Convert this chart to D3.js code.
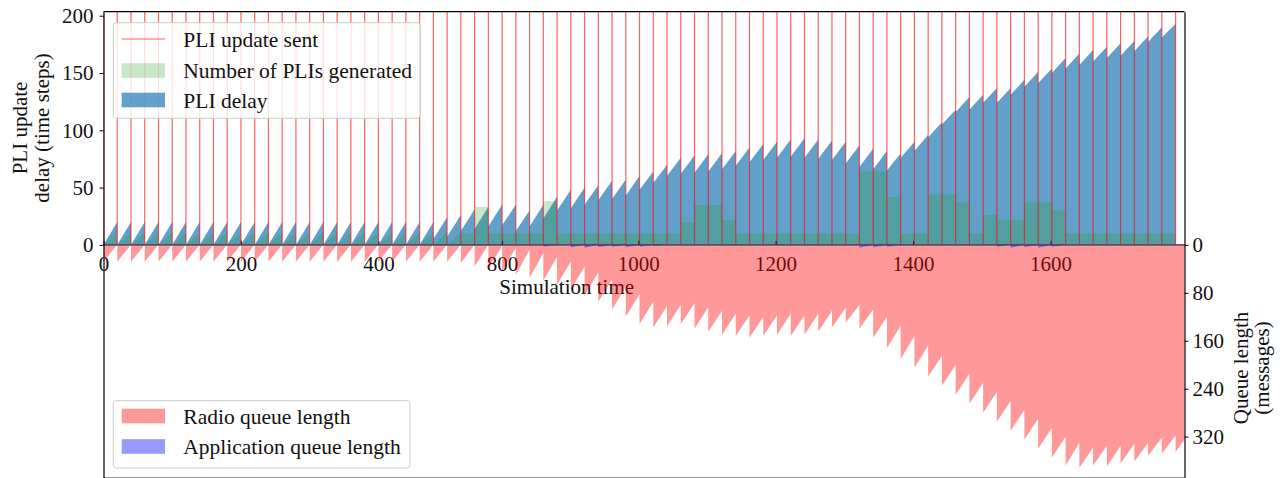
<!DOCTYPE html>
<html>
<head>
<meta charset="utf-8">
<script src="https://cdn.jsdelivr.net/npm/d3@7"></script>
<style>
  html, body { margin: 0; padding: 0; background: #fff; }
  svg text { font-family: "Liberation Serif", "Times New Roman", serif; fill: #111; }
</style>
</head>
<body>
<div id="chart"></div>
<script>
// times at which a PLI update was sent
var sentTimes = [0,20,40,60,80,100,120,140,160,180,
  200,220,240,260,280,300,320,340,360,380,
  400,420,440,460,480,500,520,540,560,580,
  600,620,640,660,680,700,720,740,760,780,
  800,820,840,860,880,900,920,940,960,980,
  1000,1020,1040,1060,1080,1100,1120,1140,1160,1180,
  1200,1220,1240,1260,1280,1300,1320,1340,1360,1380,
  1400,1420,1440,1460,1480,1500,1520,1540,1560];
var simEnd = 1573;

// PLI delay at the start / end of each update period
var delayLow = [0,0,0,0,0,0,0,0,0,0,
  0,0,0,0,0,0,0,0,0,0,
  0,0,0,0,5,7,12,14,16,17,
  12,16,23,30,32,35,39,40,43,48,
  54,60,62,63,64,66,69,72,74,76,
  77,76,75,74,71,68,66,65,76,82,
  94,105,116,118,124,124,131,138,141,150,
  154,157,160,163,165,169,177,181];
var delayHigh = [20,20,20,20,20,20,20,20,20,20,
  20,20,20,20,20,20,20,20,20,20,
  20,20,20,20,24,26,31,33,35,35,
  30,35,42,48,50,52,56,57,60,64,
  70,76,78,79,80,82,85,88,90,92,
  93,92,91,90,87,84,82,80,90,96,
  107,118,129,131,137,137,144,151,154,163,
  167,170,173,176,178,182,190,193];

// number of PLIs generated, start / end of each period
var plisLow = [0,0,0,0,0,0,0,0,0,0,
  0,0,0,0,0,0,0,0,0,0,
  0,0,0,0,0,0,10,33,10,10,
  10,10,38,10,10,10,10,10,10,10,
  10,10,20,35,35,22,10,10,10,10,
  10,10,10,10,10,64,64,42,10,10,
  44,44,37,10,26,22,22,37,37,30,
  10,10,10,10,10,10,10,10];
var plisHigh = [11,11,11,11,11,11,11,11,11,11,
  11,11,11,11,11,11,11,11,11,11,
  11,11,11,11,11,11,10,33,10,10,
  10,10,38,10,10,10,10,10,10,10,
  10,10,20,35,35,22,10,10,10,10,
  10,10,10,10,10,64,64,42,10,10,
  44,44,37,10,26,22,22,37,37,30,
  10,10,10,10,10,10,10,10];

// radio queue: value right after each update and at the end of the period
var radioPeak = [28,28,28,28,28,28,28,28,28,28,
  28,28,28,28,28,28,28,28,28,28,
  28,28,28,28,28,28,30,36,40,44,
  50,55,60,66,75,85,95,108,120,132,
  138,136,132,140,145,150,152,155,152,150,
  152,150,145,138,130,140,155,172,190,205,
  220,235,250,265,280,295,310,325,340,355,
  368,372,368,370,365,362,352,348,345];
var radioEnd = [0,0,0,0,0,0,0,0,0,0,
  0,0,0,0,0,0,0,0,0,0,
  0,0,0,0,0,0,0,0,2,5,
  8,14,20,28,36,46,58,70,82,95,
  102,100,98,104,110,115,118,120,118,115,
  118,115,110,105,100,108,120,135,152,168,
  185,200,215,230,245,260,275,290,305,320,
  330,338,335,335,332,330,322,318,325];

// application queue peaks
var appPeak = [0,0,0,0,0,0,0,0,0,0,
  0,0,0,0,0,0,0,0,0,0,
  0,0,0,0,0,0,0,0,0,0,
  0,0,3,0,4,5,4,3,4,3,
  2,0,0,0,0,0,0,0,0,0,
  0,0,0,0,0,5,4,3,0,0,
  0,0,0,0,0,3,5,4,5,3,
  0,0,0,0,0,0,0,0,0];

var xTickValues = [0,200,400,580,778,978,1178,1378];
var xTickLabels = ["0","200","400","800","1000","1200","1400","1600"];
var delayTicks = [0,50,100,150,200];
var queueTicks = [0,80,160,240,320];

var width = 1283, height = 478;
var plotLeft = 103.5, plotRight = 1184.5, plotTop = 11.7, plotBottom = 478;

var svg = d3.select("#chart").append("svg").attr("width", width).attr("height", height);
svg.append("rect").attr("width", width).attr("height", height).attr("fill", "#fff");

var x = d3.scaleLinear().domain([0, simEnd]).range([plotLeft, plotRight]);
var yDelay = d3.scaleLinear().domain([-203.5, 203.5]).range([plotBottom, plotTop]);
// queue axis grows downwards from the middle
var yQueue = d3.scaleLinear().domain([-389, 389]).range([plotTop, plotBottom]);
var zeroY = yDelay(0);

var defs = svg.append("defs");
defs.append("clipPath").attr("id", "clipTop").append("rect")
    .attr("x", plotLeft).attr("y", plotTop).attr("width", plotRight - plotLeft).attr("height", zeroY - plotTop);
defs.append("clipPath").attr("id", "clipBottom").append("rect")
    .attr("x", plotLeft).attr("y", zeroY).attr("width", plotRight - plotLeft).attr("height", plotBottom - zeroY);

// x tick labels and label go first, the queue fill is drawn over them
svg.append("g")
    .attr("transform", "translate(0," + zeroY + ")")
    .call(d3.axisBottom(x).tickValues(xTickValues)
      .tickFormat(function(d, i) { return xTickLabels[i]; })
      .tickSize(0).tickPadding(11))
    .call(function(g) { g.select(".domain").remove(); })
    .selectAll("text").attr("font-size", "21px").attr("font-family", null).attr("fill", "#111");

svg.append("text").attr("x", 566.7).attr("y", 294).attr("text-anchor", "middle")
    .attr("font-size", "21px").text("Simulation time");

// saw-tooth points
var delayPts = [], greenPts = [], radioPts = [], appPts = [];
for (var j = 0; j < delayHigh.length; j++) {
  delayPts.push({t: sentTimes[j], v: delayLow[j]}, {t: sentTimes[j + 1], v: delayHigh[j]});
  greenPts.push({t: sentTimes[j], v: plisLow[j]}, {t: sentTimes[j + 1], v: plisHigh[j]});
}
for (var k = 0; k < radioPeak.length; k++) {
  var tEnd = k + 1 < sentTimes.length ? sentTimes[k + 1] : simEnd;
  radioPts.push({t: sentTimes[k], v: radioPeak[k]}, {t: tEnd, v: radioEnd[k]});
  appPts.push({t: sentTimes[k], v: appPeak[k]}, {t: tEnd, v: 0});
}

var topArea = d3.area().x(function(d) { return x(d.t); })
    .y0(zeroY).y1(function(d) { return yDelay(d.v); });
var queueArea = d3.area().x(function(d) { return x(d.t); })
    .y0(yQueue(0)).y1(function(d) { return yQueue(d.v); });

var topG = svg.append("g").attr("clip-path", "url(#clipTop)");
topG.append("path").datum(delayPts).attr("d", topArea)
    .attr("fill", "#1f77b4").attr("fill-opacity", 0.7);
topG.append("path").datum(greenPts).attr("d", topArea)
    .attr("fill", "#2ca02c").attr("fill-opacity", 0.26);
topG.selectAll("line.sent")
    .data(sentTimes)
    .enter().append("line")
      .attr("class", "sent")
      .attr("x1", function(d) { return x(d); }).attr("x2", function(d) { return x(d); })
      .attr("y1", plotTop).attr("y2", zeroY)
      .attr("stroke", "red").attr("stroke-opacity", 0.62).attr("stroke-width", 1.2);

var botG = svg.append("g").attr("clip-path", "url(#clipBottom)");
botG.append("path").datum(radioPts).attr("d", queueArea)
    .attr("fill", "red").attr("fill-opacity", 0.4);
botG.append("path").datum(appPts).attr("d", queueArea)
    .attr("fill", "blue").attr("fill-opacity", 0.4);

// zero line with small upward x ticks
svg.append("line").attr("x1", plotLeft).attr("x2", plotRight).attr("y1", zeroY).attr("y2", zeroY)
    .attr("stroke", "#2e2658").attr("stroke-width", 1.4);
svg.append("g")
    .attr("transform", "translate(0," + zeroY + ")")
    .call(d3.axisBottom(x).tickValues(xTickValues).tickFormat("").tickSize(-4))
    .call(function(g) { g.select(".domain").remove(); })
    .selectAll("line").attr("stroke", "#222");

// spines
svg.append("line").attr("x1", plotLeft).attr("x2", plotRight).attr("y1", plotTop).attr("y2", plotTop)
    .attr("stroke", "#000").attr("stroke-width", 1.2);
svg.append("line").attr("x1", plotLeft).attr("x2", plotRight).attr("y1", plotBottom - 0.5).attr("y2", plotBottom - 0.5)
    .attr("stroke", "#9a9a9a").attr("stroke-width", 1);

var leftAxis = svg.append("g")
    .attr("transform", "translate(" + plotLeft + ",0)")
    .call(d3.axisLeft(yDelay).tickValues(delayTicks).tickSize(4).tickSizeOuter(0).tickPadding(6));
var rightAxis = svg.append("g")
    .attr("transform", "translate(" + plotRight + ",0)")
    .call(d3.axisRight(yQueue).tickValues(queueTicks).tickSize(4).tickSizeOuter(0).tickPadding(4));
[leftAxis, rightAxis].forEach(function(a) {
  a.selectAll("text").attr("font-size", "21px").attr("font-family", null).attr("fill", "#111");
  a.select(".domain").attr("stroke-width", 1.2);
});

// axis titles
function vText(x0, y0, str) {
  svg.append("text").attr("transform", "translate(" + x0 + "," + y0 + ") rotate(-90)")
      .attr("text-anchor", "middle").attr("font-size", "21px").text(str);
}
vText(26.5, 128, "PLI update");
vText(49, 128, "delay (time steps)");
vText(1247.5, 368, "Queue length");
vText(1268.5, 368, "(messages)");

// legends
function legend(bx, by, bw, bh, items) {
  var g = svg.append("g");
  g.append("rect").attr("x", bx).attr("y", by).attr("width", bw).attr("height", bh)
      .attr("rx", 3).attr("fill", "#fff").attr("fill-opacity", 0.8)
      .attr("stroke", "#cccccc").attr("stroke-width", 1);
  items.forEach(function(it) {
    if (it.line) {
      g.append("line").attr("x1", 121.7).attr("x2", 165).attr("y1", it.cy).attr("y2", it.cy)
          .attr("stroke", it.color).attr("stroke-opacity", it.opacity).attr("stroke-width", 1.2);
    } else {
      g.append("rect").attr("x", 121.7).attr("y", it.cy - 7.3).attr("width", 43.3).attr("height", 14.6)
          .attr("fill", it.color).attr("fill-opacity", it.opacity);
    }
    g.append("text").attr("x", 183.3).attr("y", it.cy + 7.5).attr("font-size", "21.5px").text(it.label);
  });
}
legend(113.3, 22.7, 307, 95.6, [
  {label: "PLI update sent", color: "red", opacity: 0.62, line: true, cy: 39},
  {label: "Number of PLIs generated", color: "#2ca02c", opacity: 0.26, cy: 70.5},
  {label: "PLI delay", color: "#1f77b4", opacity: 0.7, cy: 100}
]);
legend(113.3, 400.7, 296.7, 67.3, [
  {label: "Radio queue length", color: "red", opacity: 0.4, cy: 416},
  {label: "Application queue length", color: "blue", opacity: 0.4, cy: 446.5}
]);
</script>
</body>
</html>
